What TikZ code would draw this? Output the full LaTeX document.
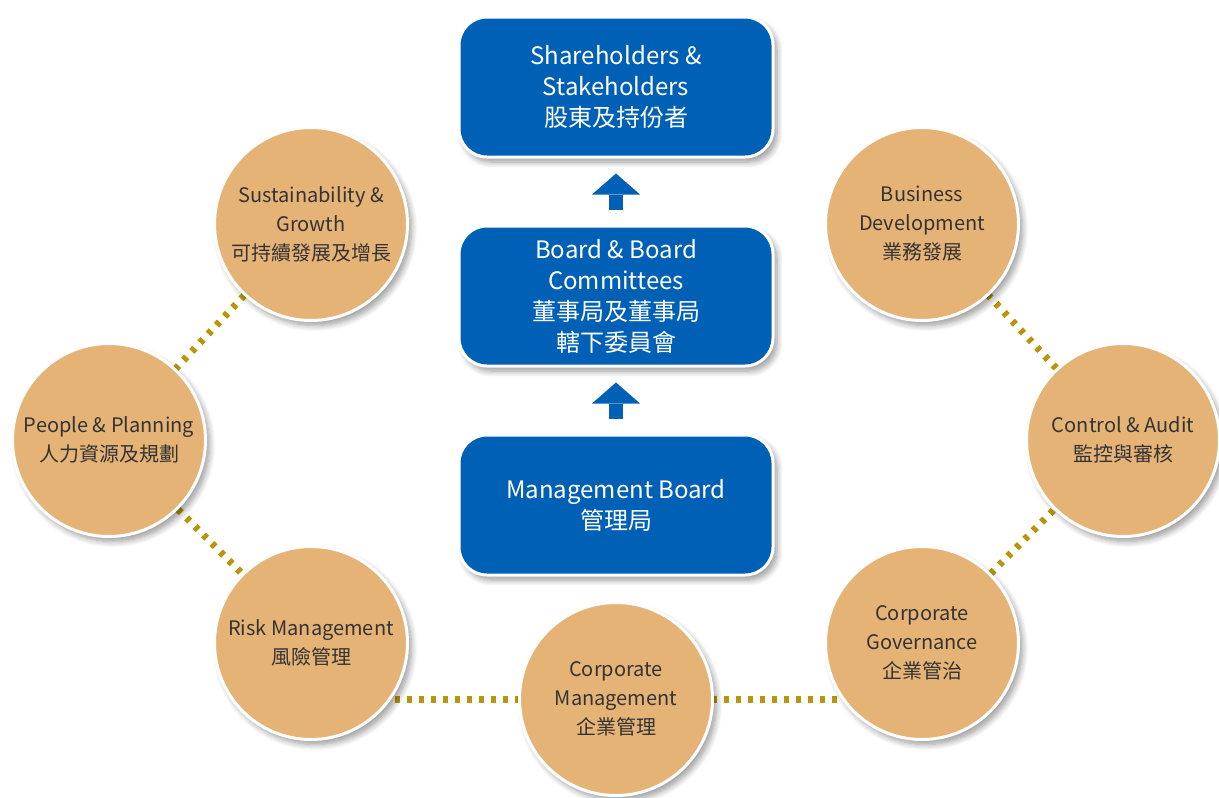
\documentclass[tikz,border=0pt]{standalone}
\usepackage{fontspec}
\setmainfont{Noto Sans CJK TC}
\usetikzlibrary{shadows,shadows.blur,arrows.meta,backgrounds}
\definecolor{boxblue}{HTML}{0060B6}
\definecolor{circfill}{HTML}{E6B377}
\definecolor{dotc}{HTML}{B8960A}
\definecolor{txt}{HTML}{333333}
\begin{document}
\begin{tikzpicture}[x=1pt,y=-1pt,
  bluebox/.style={draw=white, line width=3pt, fill=boxblue, rounded corners=28pt,
    minimum width=314pt, minimum height=140pt, inner sep=0pt, text=white, align=center,
    font=\fontsize{24}{31}\selectfont,
    blur shadow={shadow xshift=4pt, shadow yshift=-5pt, shadow blur steps=8, shadow blur radius=6pt}},
  topic/.style={circle, draw=white, line width=3pt, fill=circfill, minimum size=193pt,
    inner sep=0pt, text=txt, align=center, font=\fontsize{20}{29}\selectfont,
    blur shadow={shadow xshift=4pt, shadow yshift=-5pt, shadow blur steps=8, shadow blur radius=6pt}},
  uparrow/.style={boxblue, line width=14pt, shorten <=15pt, shorten >=15pt,
    -{Triangle[width=48pt,length=21pt,line width=0pt]}},
  dots/.style={dotc, line width=7pt, dash pattern=on 4.5pt off 7.5pt}
]
\useasboundingbox (0,0) rectangle (1219,798);

\node[bluebox] (sh) at (616,87) {Shareholders \&\\Stakeholders\\股東及持份者};
\node[bluebox] (bd) at (616,296) {Board \& Board\\Committees\\董事局及董事局\\轄下委員會};
\node[bluebox] (mb) at (616,505) {Management Board\\管理局};

\draw[uparrow] (bd.north) -- (sh.south);
\draw[uparrow] (mb.north) -- (bd.south);

\node[topic] (sg) at (311,224) {Sustainability \&\\Growth\\可持續發展及增長};
\node[topic] (pp) at (109,440) {People \& Planning\\人力資源及規劃};
\node[topic] (rm) at (311,643) {Risk Management\\風險管理};
\node[topic] (cm) at (616,699) {Corporate\\Management\\企業管理};
\node[topic] (cg) at (922,643) {Corporate\\Governance\\企業管治};
\node[topic] (ca) at (1123,440) {Control \& Audit\\監控與審核};
\node[topic] (bdv) at (922,224) {Business\\Development\\業務發展};

\begin{scope}[on background layer]
\draw[dots] (sg) -- (pp);
\draw[dots] (pp) -- (rm);
\draw[dots] (rm.center |- cm.center) -- (cm.center);
\draw[dots] (cm.center) -- (cg.center |- cm.center);
\draw[dots] (cg) -- (ca);
\draw[dots] (ca) -- (bdv);
\end{scope}
\end{tikzpicture}
\end{document}
